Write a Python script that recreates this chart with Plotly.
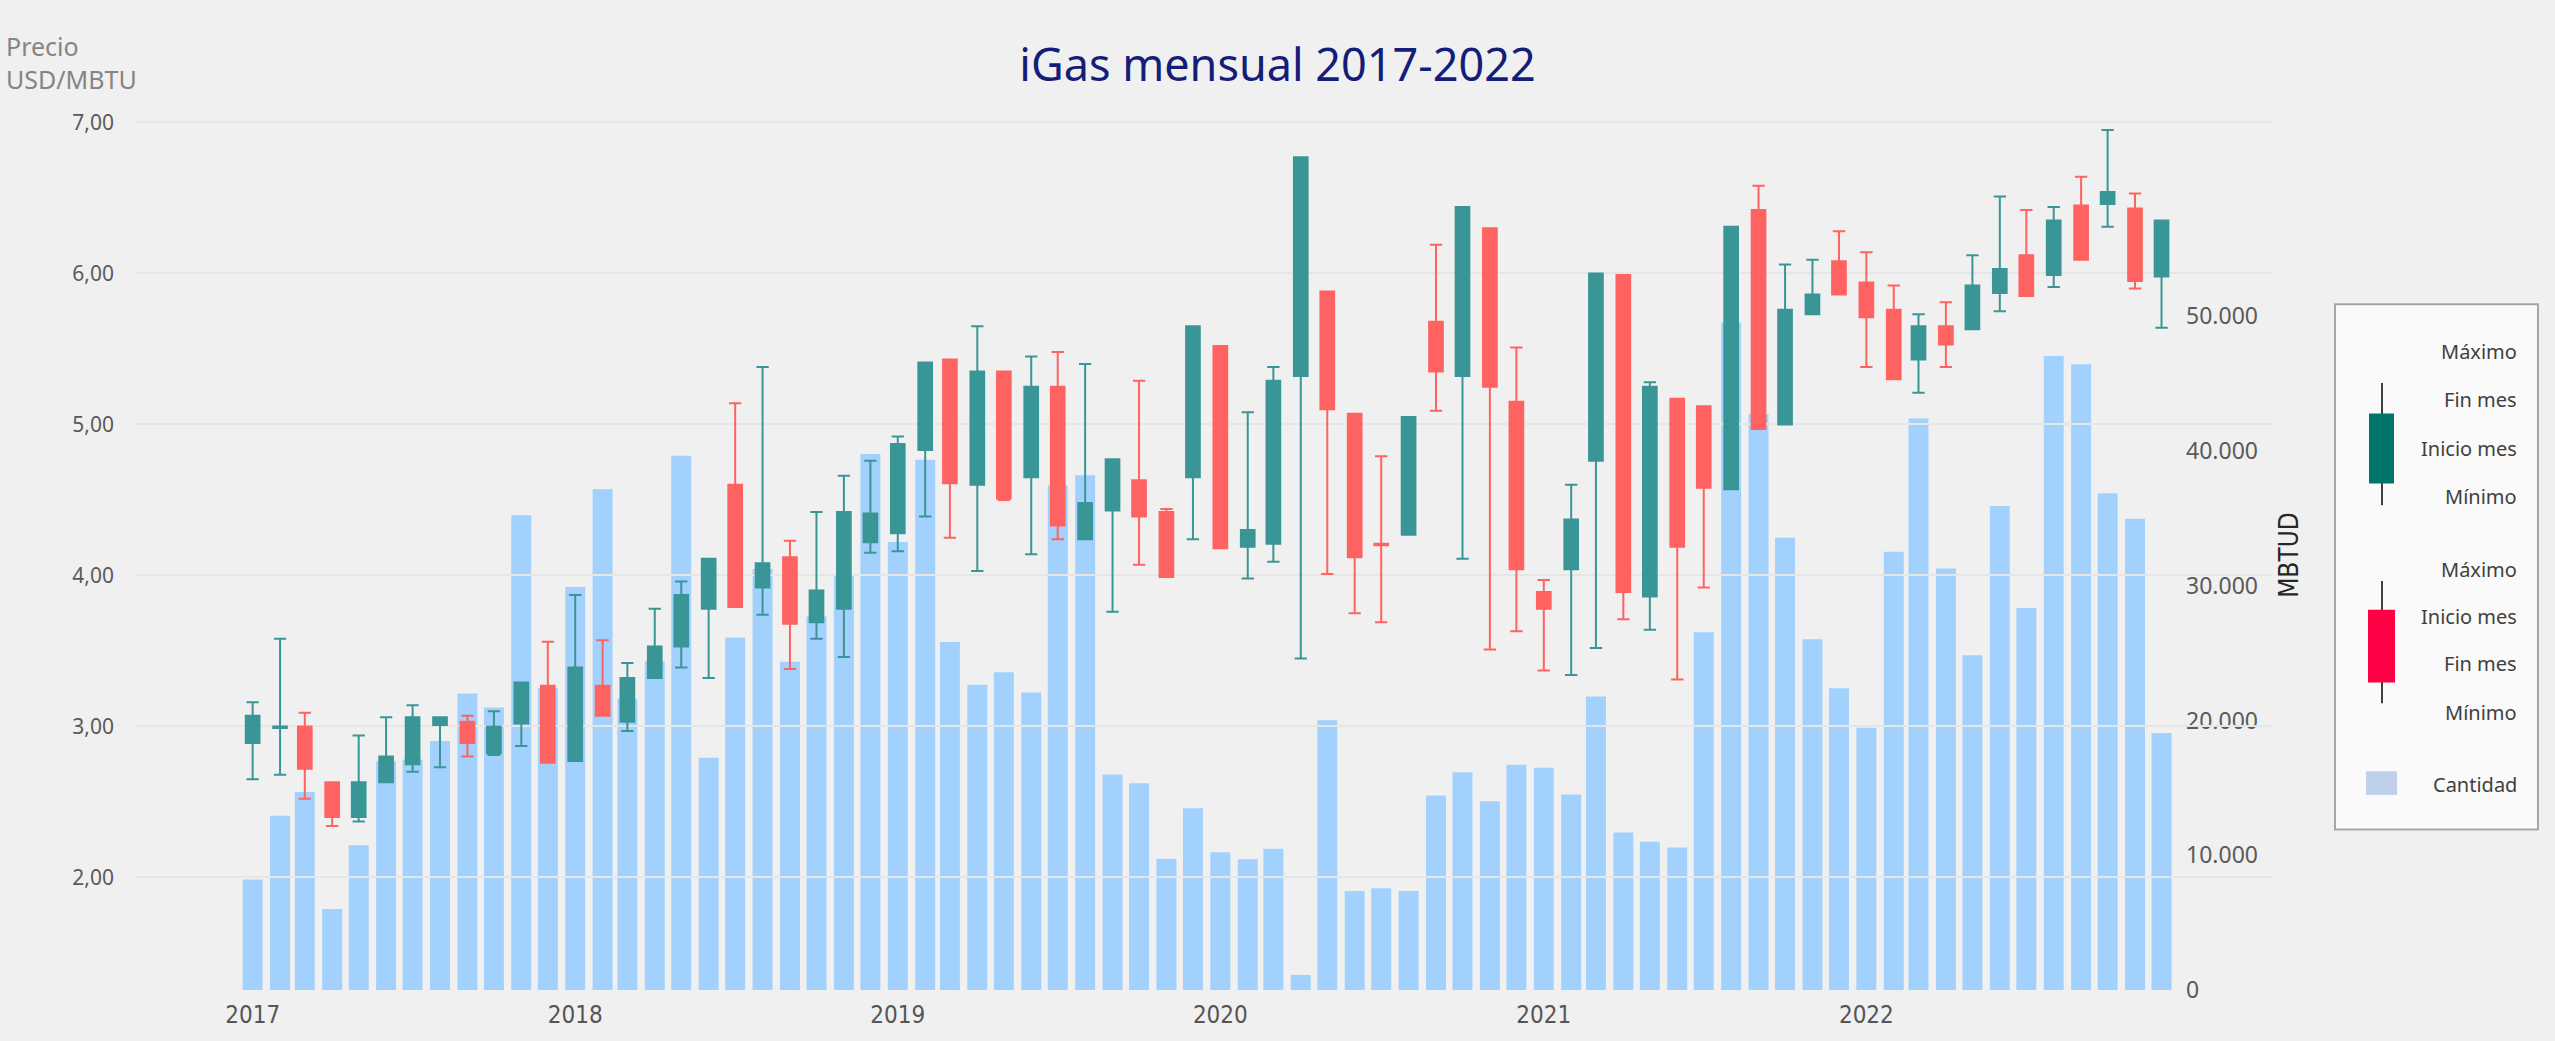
import pandas as pd
import plotly.graph_objects as go

# ---- Monthly iGas data (USD/MBTU and MBTUD) ----
months = pd.date_range("2017-01-01", "2022-12-01", freq="MS")

open_ = [2.89, 2.99, 3.00, 2.63, 2.40, 2.63, 2.75, 3.01, 3.03, 2.82, 3.02, 3.27,
         2.77, 3.27, 3.03, 3.32, 3.53, 3.78, 4.60, 3.92, 4.12, 3.69, 3.78, 4.22,
         4.28, 4.83, 5.43, 4.60, 5.35, 4.65, 5.25, 4.24, 4.43, 4.63, 4.42, 4.65,
         5.52, 4.19, 4.21, 5.32, 5.88, 5.07, 4.21, 4.27, 5.68, 5.32, 6.30, 5.15,
         3.89, 4.04, 4.76, 5.99, 3.86, 5.17, 5.12, 4.57, 6.42, 5.00, 5.73, 6.08,
         5.94, 5.76, 5.43, 5.65, 5.63, 5.87, 6.12, 5.99, 6.45, 6.46, 6.43, 5.98]
high = [3.16, 3.58, 3.09, 2.63, 2.94, 3.06, 3.14, 3.06, 3.07, 3.10, 3.29, 3.56,
        3.87, 3.57, 3.42, 3.78, 3.96, 4.11, 5.14, 5.38, 4.23, 4.42, 4.66, 4.76,
        4.92, 5.41, 5.43, 5.65, 5.35, 5.45, 5.48, 5.40, 4.77, 5.29, 4.44, 5.65,
        5.52, 5.08, 5.38, 6.77, 5.88, 5.07, 4.79, 5.05, 6.19, 6.44, 6.30, 5.51,
        3.97, 4.60, 6.00, 5.99, 5.28, 5.17, 5.12, 6.31, 6.58, 6.06, 6.09, 6.28,
        6.14, 5.92, 5.73, 5.81, 6.12, 6.51, 6.42, 6.44, 6.64, 6.95, 6.53, 6.35]
low = [2.65, 2.68, 2.52, 2.34, 2.37, 2.63, 2.70, 2.73, 2.80, 2.81, 2.87, 2.76,
       2.77, 3.07, 2.97, 3.32, 3.39, 3.32, 3.79, 3.74, 3.38, 3.58, 3.46, 4.15,
       4.16, 4.39, 4.25, 4.03, 4.50, 4.14, 4.24, 4.24, 3.76, 4.07, 3.99, 4.24,
       4.18, 3.98, 4.09, 3.45, 4.01, 3.75, 3.69, 4.27, 5.09, 4.11, 3.51, 3.63,
       3.37, 3.34, 3.52, 3.71, 3.64, 3.31, 3.92, 4.57, 4.97, 5.00, 5.73, 5.86,
       5.38, 5.30, 5.21, 5.38, 5.63, 5.75, 5.85, 5.91, 6.09, 6.31, 5.90, 5.64]
close = [3.07, 3.00, 2.72, 2.40, 2.63, 2.80, 3.06, 3.06, 2.89, 3.00, 3.29, 2.76,
         3.39, 3.07, 3.32, 3.53, 3.87, 4.11, 3.79, 4.08, 3.68, 3.90, 4.42, 4.41,
         4.87, 5.41, 4.61, 5.35, 4.51, 5.25, 4.33, 4.48, 4.77, 4.39, 3.99, 5.65,
         4.18, 4.30, 5.29, 6.77, 5.10, 4.12, 4.20, 5.05, 5.35, 6.44, 5.25, 4.04,
         3.78, 4.37, 6.00, 3.89, 5.25, 4.19, 4.58, 6.31, 4.97, 5.76, 5.86, 5.86,
         5.71, 5.30, 5.65, 5.53, 5.92, 6.03, 5.85, 6.35, 6.09, 6.54, 5.95, 6.35]
volume = [8200, 12930, 14700, 6020, 10740, 16970, 17100, 18480, 22000, 20970, 35240, 22390,
          29910, 37170, 21610, 24410, 39660, 17230, 26170, 31240, 24360, 27720, 30770, 39790,
          33260, 39360, 25830, 22650, 23590, 22090, 37470, 38200, 15990, 15340, 9750, 13490,
          10230, 9710, 10490, 1120, 20020, 7350, 7560, 7350, 14440, 16160, 14010, 16720,
          16500, 14520, 21790, 11690, 11000, 10570, 26560, 49540, 42760, 33560, 26040, 22390,
          19470, 32530, 42410, 31280, 24840, 35920, 28360, 47050, 46450, 36870, 34980, 19080]

year_ticks = ["2017", "2018", "2019", "2020", "2021", "2022"]

# ---- Styling ----
BG = "#f0f0f0"
GRID = "#e6e6e6"
UP = "#3a9696"
DOWN = "#ff6361"
BAR = "#a3d1fd"
NARROW = "DejaVu Sans Condensed, Liberation Sans, sans-serif"

W_PX, H_PX = 2555, 1041
L, R, T, B = 136, 2272, 120, 1003  # plot area in pixels


def px(x):
    return (x - L) / (R - L)


def py(y):
    return (B - y) / (B - T)


DAY_MS = 86400000

fig = go.Figure()

# Volume bars (subplot x/y, axis on the right)
fig.add_trace(go.Bar(
    x=months, y=volume, name="Cantidad",
    marker=dict(color=BAR, line=dict(width=0)),
    width=22.6 * DAY_MS,
    xaxis="x", yaxis="y", showlegend=False,
))

# Monthly candles drawn as boxes with capped whiskers (subplot x2/y2)
def candle_trace(rising):
    idx = [i for i in range(len(months)) if (close[i] >= open_[i]) == rising]
    lo_body = [min(open_[i], close[i]) for i in idx]
    hi_body = [max(open_[i], close[i]) for i in idx]
    color = UP if rising else DOWN
    return go.Box(
        x=[months[i] for i in idx],
        q1=lo_body, median=lo_body, q3=hi_body,
        lowerfence=[low[i] for i in idx],
        upperfence=[high[i] for i in idx],
        fillcolor=color,
        line=dict(color=color, width=2),
        whiskerwidth=0.9,
        width=15.5 * DAY_MS,
        boxpoints=False,
        xaxis="x2", yaxis="y2", showlegend=False,
        name="Sube" if rising else "Baja",
    )


fig.add_trace(candle_trace(True))
fig.add_trace(candle_trace(False))

x_range = ["2016-08-22", "2023-04-05"]
price_range = [1.2541, 7.0163]
vol_range = [0, 64575]

fig.update_layout(
    width=W_PX, height=H_PX,
    margin=dict(l=L, r=W_PX - R, t=T, b=H_PX - B, pad=0),
    paper_bgcolor=BG, plot_bgcolor="rgba(0,0,0,0)",
    separators=",.",
    title=dict(
        text="iGas mensual 2017-2022",
        font=dict(family="Noto Sans", size=45, color="#141e78"),
        x=0.5, xref="container", xanchor="center",
        y=1 - 65 / H_PX, yref="container", yanchor="middle",
    ),
    xaxis=dict(
        type="date", range=x_range, domain=[0, 1],
        tickvals=[f"{y}-01-01" for y in year_ticks], ticktext=year_ticks,
        showgrid=False, zeroline=False, showline=False, ticks="",
        tickfont=dict(family=NARROW, size=24, color="#555555"),
        ticklabelstandoff=8,
    ),
    yaxis=dict(
        range=vol_range, domain=[0, 1], side="right",
        anchor="free", position=px(2185),
        tickvals=[0, 10000, 20000, 30000, 40000, 50000], tickformat=",.0f",
        showgrid=False, zeroline=False, showline=False, ticks="",
        tickfont=dict(family="Noto Sans", size=23, color="#5a5a5a"),
        title=dict(text="MBTUD", standoff=22,
                   font=dict(family=NARROW, size=26, color="#262626")),
    ),
    xaxis2=dict(
        type="date", range=x_range, domain=[0, 1], anchor="y2",
        matches="x", visible=False, showgrid=False,
    ),
    yaxis2=dict(
        range=price_range, domain=[0, 1], anchor="x2", side="left",
        tickvals=[2, 3, 4, 5, 6, 7], tickformat=".2f",
        showgrid=True, gridcolor=GRID, gridwidth=2,
        zeroline=False, showline=False, ticks="",
        tickfont=dict(family="Noto Sans", size=21, color="#5a5a5a"),
        ticklabelstandoff=21,
    ),
)

# Price axis caption in the top-left corner
fig.add_annotation(
    text="Precio<br>USD/MBTU", xref="paper", yref="paper",
    x=px(4), y=py(26), xanchor="left", yanchor="top", align="left",
    showarrow=False, font=dict(family="Noto Sans", size=25, color="#858585"),
)

# ---- Custom legend panel ----
shapes = [
    dict(type="rect", xref="paper", yref="paper",
         x0=px(2335), x1=px(2538), y0=py(307), y1=py(840),
         fillcolor="#fafafa", line=dict(color="#a6a6a6", width=2), layer="above"),
    # rising candle icon
    dict(type="line", xref="paper", yref="paper",
         x0=px(2382), x1=px(2382), y0=py(387), y1=py(511),
         line=dict(color="#000000", width=1.5), layer="above"),
    dict(type="rect", xref="paper", yref="paper",
         x0=px(2369), x1=px(2394), y0=py(418), y1=py(489),
         fillcolor="#00756b", line=dict(width=0), layer="above"),
    # falling candle icon
    dict(type="line", xref="paper", yref="paper",
         x0=px(2382), x1=px(2382), y0=py(588), y1=py(712),
         line=dict(color="#000000", width=1.5), layer="above"),
    dict(type="rect", xref="paper", yref="paper",
         x0=px(2368), x1=px(2395), y0=py(617), y1=py(691),
         fillcolor="#ff0044", line=dict(width=0), layer="above"),
    # volume swatch
    dict(type="rect", xref="paper", yref="paper",
         x0=px(2366), x1=px(2397), y0=py(781), y1=py(805),
         fillcolor="#bfd1ea", line=dict(width=0), layer="above"),
]
fig.update_layout(shapes=shapes)

legend_labels = [
    ("Máximo", 355), ("Fin mes", 404), ("Inicio mes", 453), ("Mínimo", 502),
    ("Máximo", 576), ("Inicio mes", 624), ("Fin mes", 672), ("Mínimo", 721),
    ("Cantidad", 794),
]
for label, ypix in legend_labels:
    fig.add_annotation(
        text=label, xref="paper", yref="paper",
        x=px(2519), y=py(ypix), xanchor="right", yanchor="middle",
        showarrow=False, font=dict(family="Noto Sans", size=20, color="#404040"),
    )

fig.write_html("out.html")
